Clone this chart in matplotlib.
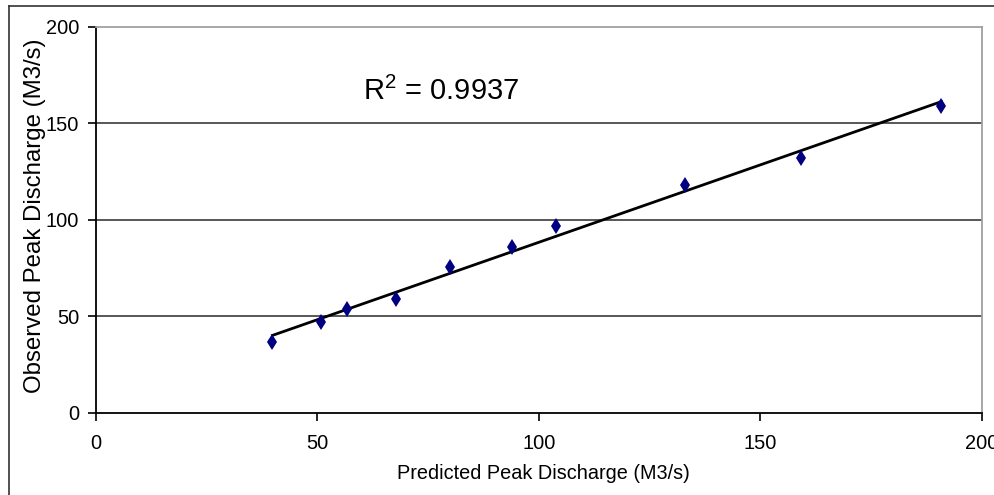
#!/usr/bin/env python3
"""
Observed vs predicted peak discharge, with linear trendline and R^2.
"""
import numpy as np
import matplotlib
matplotlib.use("Agg")
import matplotlib.pyplot as plt
from matplotlib.lines import Line2D

plt.rcParams['font.family'] = ['Liberation Sans', 'DejaVu Sans']
plt.rcParams['mathtext.fontset'] = 'custom'
plt.rcParams['mathtext.rm'] = 'Liberation Sans'

# values
predicted = [39.9, 50.9, 56.8, 67.7, 80.0, 93.9, 103.8, 133.0, 159.1, 190.9]
observed = [36.9, 47.3, 53.8, 59.0, 75.4, 86.1, 97.0, 118.0, 131.9, 158.9]
r_squared = 0.9937
x_ticks = [0, 50, 100, 150, 200]
y_ticks = [0, 50, 100, 150, 200]

fig = plt.figure(figsize=(9.95, 4.95), dpi=100)
ax = fig.add_axes([0.0962, 0.1657, 0.8905, 0.7804])

# outer chart frame (only left and top edges visible)
fig.add_artist(Line2D([9 / 995, 9 / 995], [0, 1 - 6 / 495], transform=fig.transFigure,
                      color='#333333', lw=1.2))
fig.add_artist(Line2D([9 / 995, 1], [1 - 6 / 495, 1 - 6 / 495], transform=fig.transFigure,
                      color='#333333', lw=1.2))

# gridlines
for yv in y_ticks[1:-1]:
    ax.axhline(yv, color='#4a4a4a', lw=1.3, zorder=1)

# linear trendline
slope, intercept = np.polyfit(predicted, observed, 1)
xs = np.array([min(predicted), max(predicted)])
ax.plot(xs, slope * xs + intercept, color='black', lw=2.0, zorder=2)

ax.plot(predicted, observed, linestyle='none', marker='d', markersize=8.5,
        color='#000080', markeredgewidth=0, zorder=3)

ax.text(60.3, 162, r'R$^{2}$ = ' + f'{r_squared:.4f}', fontsize=21, va='baseline',
        ha='left')

ax.set_xlim(0, 200)
ax.set_ylim(0, 200)
ax.set_xticks(x_ticks)
ax.set_yticks(y_ticks)
ax.tick_params(axis='both', direction='out', length=6, width=1.2, labelsize=14.4,
               color='black')
ax.tick_params(axis='x', pad=9)
ax.tick_params(axis='y', pad=6)

for side in ['top', 'right']:
    ax.spines[side].set_color('#a0a0a0')
    ax.spines[side].set_linewidth(1.3)
for side in ['left', 'bottom']:
    ax.spines[side].set_color('black')
    ax.spines[side].set_linewidth(1.3)

ax.set_xlabel('Predicted Peak Discharge (M3/s)', fontsize=14.3)
ax.set_ylabel('Observed Peak Discharge (M3/s)', fontsize=17.3)
ax.xaxis.set_label_coords(0.505, -0.132)
ax.yaxis.set_label_coords(-0.056, 0.51)

fig.savefig('out.png', dpi=100)
